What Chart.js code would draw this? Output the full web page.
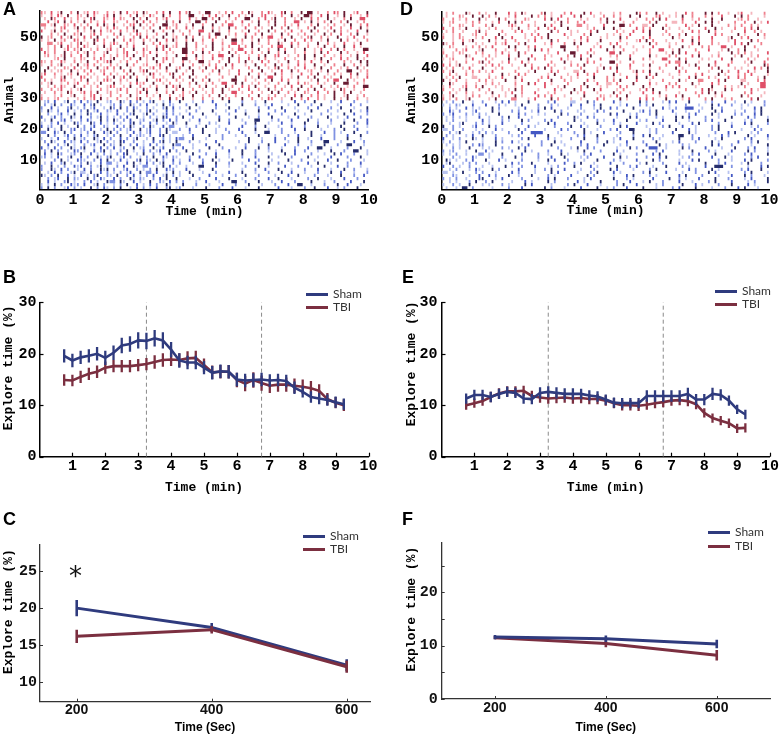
<!DOCTYPE html>
<html><head><meta charset="utf-8">
<script src="https://cdn.jsdelivr.net/npm/chart.js@4.4.1/dist/chart.umd.min.js"></script>
<style>
html,body{margin:0;padding:0;background:#fff;}
#fig{position:relative;width:780px;height:735px;overflow:hidden;background:#fff;}
canvas{position:absolute;}
.lbl{position:absolute;font:bold 18px "Liberation Sans",Arial,sans-serif;line-height:18px;color:#000;}
.leg{position:absolute;font:12px Lato,"Liberation Sans",sans-serif;color:#333;line-height:12px;}
.legline{position:absolute;height:3px;width:22px;}
.star{position:absolute;font:26px "DejaVu Sans",sans-serif;line-height:26px;color:#111;}
</style></head><body><div id="fig">
<canvas id="cA" width="380" height="225" style="left:0;top:0"></canvas>
<canvas id="cD" width="390" height="225" style="left:390px;top:0"></canvas>
<canvas id="cB" width="380" height="238" style="left:0;top:262px"></canvas>
<canvas id="cE" width="390" height="238" style="left:390px;top:262px"></canvas>
<canvas id="cC" width="380" height="235" style="left:0;top:500px"></canvas>
<canvas id="cF" width="390" height="235" style="left:390px;top:500px"></canvas>
<div class="lbl" style="left:3px;top:0px">A</div>
<div class="lbl" style="left:400px;top:0px">D</div>
<div class="lbl" style="left:3px;top:268px">B</div>
<div class="lbl" style="left:402px;top:268px">E</div>
<div class="lbl" style="left:3px;top:510px">C</div>
<div class="lbl" style="left:402px;top:510px">F</div>
<div class="star" style="left:69px;top:563px">*</div>
<div id="legends"></div>
</div>
<script>
// ---------------- DATA ----------------
const seriesNames = ['Sham', 'TBI'];
const timeMin = [0.75,1.00,1.25,1.50,1.75,2.00,2.25,2.50,2.75,3.00,3.25,3.50,3.75,4.00,4.25,4.50,4.75,5.00,5.25,5.50,5.75,6.00,6.25,6.50,6.75,7.00,7.25,7.50,7.75,8.00,8.25,8.50,8.75,9.00,9.25];
const dashTimes = [3.25, 6.75];

const shamB    = [19.6,18.7,19.3,19.6,20.0,19.2,20.2,21.6,21.9,22.6,22.5,23.0,22.6,20.8,18.7,18.3,18.3,17.3,16.3,16.6,16.5,15.0,14.8,14.9,15.0,14.8,14.9,14.7,13.4,12.6,11.6,11.3,11.0,10.6,10.2];
const shamBErr = [1.3,1.3,1.3,1.3,1.3,1.4,1.4,1.5,1.5,1.6,1.6,1.6,1.6,1.5,1.4,1.3,1.3,1.3,1.3,1.3,1.3,1.3,1.3,1.3,1.3,1.2,1.2,1.2,1.2,1.1,1.1,1.1,1.1,1.1,1.1];
const tbiB     = [14.9,14.8,15.5,16.1,16.5,17.3,17.6,17.6,17.6,17.8,18.0,18.4,18.8,18.9,18.8,19.1,19.2,17.8,16.4,16.5,16.5,14.9,14.2,14.9,14.3,13.8,14.0,14.0,13.8,13.6,13.3,12.8,11.2,10.5,10.0];
const tbiBErr  = [1.1,1.1,1.2,1.2,1.2,1.2,1.2,1.2,1.2,1.2,1.2,1.3,1.3,1.3,1.3,1.4,1.4,1.3,1.3,1.3,1.3,1.4,1.5,1.5,1.5,1.4,1.4,1.4,1.4,1.4,1.4,1.3,1.2,1.1,1.1];

const shamE    = [11.3,12.0,12.0,11.6,12.2,12.6,12.4,11.3,11.2,12.4,12.6,12.4,12.2,12.2,12.2,11.9,11.7,11.1,10.5,10.4,10.4,10.4,11.8,11.8,11.8,11.8,11.8,12.2,11.1,11.1,12.2,12.0,10.9,9.2,8.2];
const shamEErr = [1.0,1.0,1.0,1.0,1.0,1.0,1.0,1.0,1.0,1.1,1.1,1.1,1.1,1.1,1.0,1.0,1.0,1.0,1.0,1.0,1.0,1.0,1.1,1.1,1.1,1.1,1.1,1.2,1.1,1.1,1.2,1.1,1.0,0.9,0.9];
const tbiE     = [10.0,10.4,10.8,11.6,12.3,12.7,12.7,12.8,11.8,11.5,11.3,11.4,11.5,11.3,11.4,11.2,11.2,10.9,10.4,10.0,10.0,9.9,10.1,10.4,10.6,10.9,11.0,10.8,10.2,8.5,7.5,7.0,6.5,5.5,5.6];
const tbiEErr  = [0.9,0.9,0.9,1.0,1.0,1.0,1.0,1.0,1.0,1.0,1.0,1.0,1.0,1.0,1.0,1.0,1.0,1.0,1.0,1.0,1.0,1.0,1.0,1.0,1.0,1.0,1.0,1.0,1.0,0.9,0.9,0.9,0.9,0.9,0.9];

const timeSec  = [200, 400, 600];
const shamC    = [20.0, 17.4, 12.3];
const shamCErr = [1.1, 0.6, 0.8];
const tbiC     = [16.2, 17.1, 12.1];
const tbiCErr  = [0.9, 0.5, 0.8];
const shamF    = [11.6, 11.3, 10.3];
const shamFErr = [0.4, 0.6, 0.8];
const tbiF     = [11.5, 10.4, 8.2];
const tbiFErr  = [0.3, 0.7, 1.0];

const xTicksRaster = [0,1,2,3,4,5,6,7,8,9,10];
const xTicksMin    = [1,2,3,4,5,6,7,8,9,10];
const yTicksAnimal = [10,20,30,40,50];
const yTicksExplore= [0,10,20,30];
const yTicksC      = [10,15,20,25];
const yTicksF      = [0,5,10,15,20,25];
const yLabelsF     = ['0','','10','','20',''];
const xTicksSec    = [200,400,600];

// raster: one string per animal, bins of 0.1 min (first 100 used); '.' none, 1..4 = shade (light..dark)
const rasterA_TBI = [ // animals 58 .. 30
"21.3.14..2 .4.12.31.. 2.1.4.3.12 .41..2.3.4 ..3.24..1. 44..1.2.3. .2.41..2.3 1..34.2..4 .44.1..2.3 2.4..13..4",
"1..2.31.4..2 1.4.2..13. 4.1..2.4.1 .31..4.2.. 2..44..1.3 .3.1.4..2. 1.4..23..1 .2..4.1.44 2..3.4..1. 4.2..1.33.",
".1.42..3.1. 2.1.34..21 .3.21..4.2 .4..2.13.. .2..3.1.44 .2.4..1.2. .44..2.3.1 4..2..1.4. .3.2..4.1. .2.4..33..",
"..3.13.4.2.1. 4.2.1.3..2 1..2.14.3. 2.1..4.2.4 ..1.44.2.. 4..2.1..3. .1.4..2.4. .2..33.1.4 .1.2.4..2. 4..1.2..4.",
"22.14..21.3 .1.2..3.41 .4..1.23.4 .1.2..44.1 2..1.4..2. .4..2.33.. 1.2..4..1. 4..2.1.3.. .2.4..1.2. .1.4..2.33",
".1..1.23..14. 2.4..1.2.3 1..2.4..1. 2..4.31.2. .3.1..4..2 .1..4.2..3 ..2.1..4.. 2.4..1..2. 4..1.3..2. .3..4.1.2.",
"3..14.2.1. .2.1.14.3. 12..3.1.24 ..1.4..2.. 4.1..2..33 ..4.1..2.. .1.4..2..4 .2..1.3..2 ..4.2..1.4 .2.1..3..4",
"...2.1.4..21 4..13.2... 2.4..1.32. 1..2..4.1. .2.1..4..2 .44..1.2.. 3..2.4..1. .4.2..1.2. .1..4.2..3 ..2.4..1..",
"4.12..3.14.1 .3.2.4..1. .2.1..2.4. 3.1..4..12 ..4.2..1.3 .2..4..1.. 4.2..1.33. .2..4..1.2 4..2.1..4. .1.3..2.4.",
"1.1.4.12..3 2.1..43.2. .4..2.31.. 2.1.4..3.4 1..2.4..2. .3..1..44. 2..1.4..2. .1.4..2..3 .2..1.4... 4.2..1..2.",
"..22.13..1.24 .1.4..2.13 1..2.1..4. .2.3.1..2. .4..2.1..4 ..2..33.1. .4.1..2..4 1..3.2..1. .4..2.1..3 ..1.4..2.4",
"..1.2.4.31. 2.31..1.4. 2..4.1.3.. .1..2.34.1 2..4..2..1 .4..1.2..3 .2.4..1..2 .33..4.1.. 2..1.4..2. .4..3.1..2",
"3.1.2..13.21 4..1.2..13 .1.2..4..3 1..4.3.2.. .44..1.2.. 4..2..1.33 ..1.4..2.. 4.2..1..4. .1.3..2.4. 2..1..44..",
".31.2..4.1 .2.14.2..1 4..1.23..1 .2.3.1..2. 1..44.2..4 .2..1..4.2 ..3.2..1.4 ..2.4..1.. 2..1.4.3.. .4.2..1.3.",
".12.1.14.2.. 3.4.1..2.1 .2.13.4..2 1..4..1..4 ..2..4.1.. 2.33..4.1. .1..2.4..2 3..1..2.4. .4..2..1.2 ..1.4..33.",
"....12.4..1.2 1..2.31.14 ..1.2..4.1 .4..23.1.. 44..2.1..3 ..1.4..2.. 3..4.2..1. .2..1..4.. 1.4..2..3. 2..4.1..2.",
"21.2..31..2 .1.4..2.13 4..1.2..2. .1..4.2..1 ..2.1..44. 1..2..4..2 .4.1..3.2. .1..4..2.1 .3..2.4... .2.1..4.44",
"1..2.14..1.4 .13.2.1..2 .1..4.2..1 2..13..4.. .4..2..1.2 .2..4.3... 1..4..2..4 .2.1..3.2. .4..1..2.. 4..2.1.4..",
"..4.1..21.3. 1.2..4.13. 2.4..1..2. .13.2.4..1 2..4..1.4. .3.1..2... .2..4..1.2 4..2.1..3. .1.4..2..1 .2..4.1..4",
".4.1.12..4.1 .2.3..12.. 1..2.4..13 4..1..2..4 ..1.4..2.. 2.4..1..3. ..2..4..1. .3..4.2..1 2..1.4..2. .44..1.2..",
"13..2.1.12 .4..2.1..3 .2.1..2.4. .1.43.1..2 4..2..4... .1..2..1.. 3..4..2.1. .4.2..1..3 ..2.4..1.2 .1..3.4..2",
"3...1.24.1..3 2.1.1..2.4 .13.4.2..1 .2..1..4.2 ..4.1..2.. ..2...4..1 .1.4..33.. 2..1.4..2. 4..2.1..4. .2.1..3..4",
".2.1..32..1 .2.4..1.23 1..2.1..4. .4..23.1.. 2.1..4..2. 4..1...44. .2..1..2.4 ..3.2..1.. .1.4..2.33 ..4.1..2..",
"1.14..1.2.1 3..2.1.4.. .4.1..2.31 2..4..1.2. .1..2.4..1 .2..33..4. 4..1.2..1. .2..4..3.2 1..2.1..4. .44..2.1..",
"..1.2.31..4. .2.1.2..13 2..1.4..2. .1.2..4.31 4..1..2.4. .1..4.2..3 .2.4..1..2 ..1.3..4.. 2..4..1.2. .1.2..44.3",
"2..2.13..1.1 4..1..2.1. .13.2..1.4 2..4..1..2 .4..2..1.. 2..4.1..2. .3..2..4.1 .2..1.4..2 .4..2..1.4 2..1..2.44",
".1..2.1.42. .13.2.4..1 2.1..2..13 .4..1..2.4 ..2.1.4..1 .2..4..33. 1..2..1..4 .4..2.1..2 1..3..2.4. .2.4..1..2",
"1...1.2..14.. 1.23.1..2. .2..4.1..2 .1.4..2..1 2..4..1.2. .4.1..2... 2..4..1.2. .1..3.4..2 .2.1..4..1 4..1.2..3.",
"2.1.12..1. .1.2.13.4. 1..2..1..2 4..1..2..4 .2.4..1..2 ..1..4.2.. .4..2..1.3 2..1..4..2 .3..2.1..4 .1.4..2..1"
];
const rasterA_Sham = [ // animals 29 .. 1
".12.3..14.2 .3.21.4..1 2..41.3.2. 1.24..1.3. .4...1..2. .3....4... 2...1..4.. ..1...3..2 ..4....1.. 3...2...1.",
".2.14.2..3 1..3.24.1. .12.3..41. 2.3..1.4.2 1...2..4.. ...3..1... .4...2..1. 3....1..4. ..2..4.... 1...3..2..",
"2..3.1..24.1. 2.13..1.42 .4.2.31..2 .1..24.3.1 ..4..1.... 2...4..1.. ...2..3... 4...1...2. .3...2..4. ..1...4...",
"1.41.2..3.1 .2.4.13..2 1.3..2.4.1 .24.1..3.2 ...1..2... .4...1..3. .1...4.... 2..3...1.. .4....2..1 ...4..1.3.",
"..2..13.1.4. 1.42..3.1. .3.1.24..1 4.2..13.2. 1..3...4.. .1...2.... 4...1..3.. .2...4..1. ...2..1... 4..3...2..",
"3..13.2..41. 3..2.14.2. 1.2.3..4.1 .2.1.43..2 .4..2...1. ..3....4.. .1..2...4. ...1..3... 2....4..1. .3...2...4",
".1.4..23.1. .2.31..4.2 .41.2.3..1 2..14.2.3. 2...1..3.. ...4..2... 1...44...1 .2...3.... 4..1...2.. .1..4...3.",
"1..2.3.1..42 1..42.3.1. 2.1..34.2. .3.2..1.41 ..4...1..2 .1...3.... 2..4...1.. .3..1...4. ..2...1... 4...2..3..",
"3.12..4.1. .4.2.13..2 1..3.2.41. .2.41..3.2 2...1..2.. 4...1..... .3...2..4. ..1...3... 2...4..1.. .4...2...1",
"..4.1.4..23.1 2.3..1.4.2 .2.13..4.1 3..2.41..2 ..3...4... 1..2...3.. ..4...1... 2...3..4.. ..1...2..4 ...3...1..",
"22..31.4.2. .1.2.4..31 4.2..1.3.2 .13..2.4.1 1...2...4. ..1...2... 3...1..44. ..2...1... .4...3..2. 1...4...2.",
"..4.2..13.2 .3.1.24..1 .2.4..3.12 1.2..34.1. ..1..3.... 4...2...1. .2...4.... 1...2..3.. .4..1...2. ..3...4..1",
"1..1.3..2.4.1 2..41.3.2. .3.2.14..1 .4..2.1.32 2..4...1.. ..2....... 4...1...3. .2...4..1. ..3...2... 4...1..2..",
".2.41..3.2 1.3.2..14. 2.1.43..2. .1..3.24.1 .4...2..1. ...3...... 1..4...2.. .3...1..4. ..2...44.. .1...3..2.",
"..3..2.14.1. .2.13..4.2 1.4..2.3.1 .3.2.1..42 2...1...3. ..4....... 2...1..4.. ..3...2... 1...4...2. .44...1..3",
"3.1.3.2..41 .24..1.3.2 .3.12..4.1 2..4.13..2 ..3..1.... 4...2...1. .3...4..2. ..1...2... 3..44..1.. ..2...4..1",
".2.4.2..1.32. 1..3.24.1. .2.4.1..3. 2.13..4.2. .4...2.... 1...3...4. ..2...1... 4...3..2.. .1...4...2 ..44..1..3",
".3.1.42..1 2.4..3.1.2 .1.2.34..1 .4..2.1.3. ..1...4... 2..3...1.. .4...2.... 1...4..3.. ..2...1..4 .3...2...1",
"12.1.3..14. .3.2..41.2 4..13.2..1 .2.4..31.2 1...2..3.. ..4...1... 2...3...4. .1...2.... 4..1...3.. ..2...4..2",
"....2.4.1..32 1..2.3.4.1 .3.1..24.2 1.4.2..3.1 ..3...2..4 .1...4.... 3..2...1.. ..4...2... 1...3..4.. .2...1...4",
".1.3..24.1. .2.41..3.2 2.1..3.4.1 .3.2.14..2 .2...1..3. ..4...2... 1...3...4. .2...1.... 3..4...1.. ..2...3..1",
"2..4.1.2..31 3..2.14.1. .2.3..41.2 2..1.4.3.1 ..1...44.. .3...1.... 2...4..1.. ..3...2... 1...4...3. .2...1..4.",
"2..41.3.2. .1.3.2..41 4.2..13..2 .1.2.4..31 2...3...1. ..4....... .1...2..3. ..4...1... 2...3...1. ..4..2...1",
"..1.3.2..14.1 1.4..3.2.1 .2.13..4.2 2.3..1.4.1 ..4...1... 2...3...4. ..1...2... 4..3...1.. .2...4..3. ..1...2..4",
"41.2.4..3.1 .3.1.24..2 1.4..2.3.1 .2.3..14.2 .1...4.... 3...1...2. .4...2.... 1...3..4.. ..2...1... 4...2..3..",
"..2.13..4.2 1..4.2.31. .3.2..41.2 1..2.3.4.. 4...1..2.. ..3...4... 1...2...3. .4...1.... 2..4...1.. .3...2...4",
"..3.1..24.1. .2.3.1..42 2.41..3.1. .4..21.3.2 .2...1..3. ..1...44.. 2...4...1. .3...2.... 4...1..2.. ..3...4..1",
"1.1.4.2..31 2.3..14.2. .1.2.4..3. 1.3.2..41. ..4...2... 1...3...2. ..4...1... 2...3..44. .1...2...4 ..3...1..2",
"2.4.2..13.2. 1..4.2.31. 2.4..1.3.2 .1.3..24.1 2...1...4. ..2...3... 1...4..... 3...1...2. .4...3..1. 2...4...1"
];
const rasterD_TBI = [ // animals 58 .. 30
".1.2...41.. 2.1..4...3 .2.41....2 4.1...2.3. ..4.3..1.. .1.2....42 .2..4.1... 1..3.2...4 .4.2..1..1 3..1...2.3",
".1...21..4 ..4.2.1... 1.3....4.2 .2.1..3... 3.4...1..2 ..2.1..4.. 4....23..1 .1.4..2... 2.1..3...4 .4.2....1.",
"2..2.1.2...4. 1...4.2..1 ..21....3. 4.3..2...1 .1...2.4.. .3....1..2 .2.4.3.... 3..1.2...4 ..4....12. 2..1...33.",
"1.12...1.2. 2...1.3..4 .4.2...1.. ...1.4.2.. 2.3....1.4 .4..1..2.. ..2.4....1 1.2...3..4 .4.1....2. .2..4.1.3.",
"..1..21..2.. .2.4....13 1...2.1..4 .3..4....2 2.1....3.. ..44.2...1 1.4...2... ..3.1.4... 4....2.1.2 ..2.1...4.",
"3..2.1.4...1 ..1.2....1 .4..1..3.. 2.3...4... ..1.2..4.. 4.1....3.2 .2...4.1.. 1..2....3. .4.1...2.. 2.3.4....1",
".1.2..1...2 4.1....2.. .2.3...1.. ..4.2...1. 1...3.4... ..2.1..3.. 3.4....2.. ..1..3.2.. 4.2....1.. .3..2.1...",
"1..1.2...12. .2...4.1.. ...1.2.3.. 4....3.1.. .2.4....1. 1.2..3.... .4...1.2.. 2.4...1... .3.2....4. 1...4.2...",
"2..1.21... 1.2...3.4. .3...1..2. 2.4.....1. ..3.2...1. 1...4.2... .2.3...... 4.1...2.3. ..3....14. .2.3....1.",
"...1..2.14.. ..4.1..2.. 2...1.3... .4.2....1. 1.3...4... ..2....13. 4.2...1... .3..4.2... 2....1.3.. ..4.2....1",
"41.2..4...1 .1...2.13. ..2.4..... 1.3...2..4 .4....1... 2.3..1.... ..4.2...1. 1....3.4.. .2.1....3. 3.4...2...",
"..21...1.2. 2.1.3....4 .4...2.3.. ..1..44... 2....1.3.. .4.2...1.. 1..3....2. ..4.1...2. 2...33.1.. .4..2.....",
"1...2.13.. .14...2..1 ..2...1.4. 3.2....4.. .1...3.... 4.1..2...1 ...2..33.. 1.4....2.. .3...1.4.. 2.4...1...",
"2..1.21...2. 2...1.3.1. .4.2...... 1..3...44. ..2.1....3 3.4...1... .2....1.4. 4.3...2... ..1...4.2. 2.1....3..",
".2.1...41.. .1.2.1...3 ..4...3... 2.1....2.4 .3..4..... 1.2...3... ..4.1...2. 2....3.4.. .1.2....1. 4..1.2....",
"1.12...1.3. ..2.1....4 .1...4.2.. 2....3.1.. .4.2...3.. ..1...4... 2.1...33.. .4.2....1. 1...3..4.. ..2.1...2.",
"..1.1..2...2 4.2...1.3. ..3.1..... .2...4.1.. ..3.2....4 4.1...2... ..1....3.2 2.4...1... .3....2... 1.4...3...",
"3.2.14...1. ..1.3.2... 1...4.2... .3.1....2. 2.4....1.. ..2...3... 1.4....2.. .3..1.4... 4.2...3... ..1....42.",
".1.2..1.3.. .4...1.2.. ..1...3.2. 4.2...1... .2....1.4. 3.4...2... ..1..2.... 4.1....3.. .2.4....1. 1...3.2.4.",
"2.14...1.2. 2.1.3..... .2...1.4.. ..3.2....1 1.4...2... ..3....14. 2.4...1... .3.2...... 1...4.2..3 ..3.1...4.",
"..2.1..2.1.. ..1...4.1. .3.2...... 1.4...1..3 ..2.3..... 4.1....2.. .3.4...1.. 1....2.3.. ..4.1...2. 2.3....1..",
".1.2.4...1 1...2.1.3. ..4.1..... 2.3...2..1 .1....4... 2.1...3..4 ..4.2..... 1....3.4.. .2.1...3.. 3.2...1.4.",
"4.1.2..1...2 .2.1...4.. 1.3....2.. .4...2.1.. ..3.1...2. 2.4....3.. .1...2.... 4.1...22.. ..3.4....1 1...2.3...",
"..41...2..1 ..1.2.1... .2...4.3.. 3.1....2.. ..4...3..1 1.2....4.. ..3.1...2. 2....4.1.. .3.2...... 4.1...33..",
"1.2...13.. 2.4...1.1. ..1.2..... .3...1.4.. ..2.4...1. 1...3.2... .4.1....3. 2.3....1.. ..4...2.1. 1.2....33.",
"2..1.1.4...2 ..2...1.1. 4.2....1.. ..3.1...4. 2...4.3... .1.2....1. 3.4...1... ..2....3.4 1...4.2... ..3.1....4",
"..2.1..2.1.. .1.4...1.3 ..2...3... 1.2....4.1 .3...1.... 4.2..1...3 ..3.4..... 1....2.3.4 .4.1...... 2.3...1..2",
"1.14...1.2. 2...1.2.1. .4.1....3. 2.3...1... ..4....21. 1.3..4.... .2...1.2.. 3.4....2.. ..1.3..... 4.2...1..3",
"2.1.2..14... ..1.4....2 2...1.3... .4.2...1.. 1....3.2.. ..4.1...3. 3.2...4... .1.3....2. 4...1.2... ..3.4...1."
];
const rasterD_Sham = [ // animals 29 .. 1
".1.2..4..1 ..2...1.3. 3.1...4... ..2.3....1 1...4.2... ..3.1..... 4.2....1.3 .3...4.... 1.2...3..1 ..4.1...2.",
"1.1.21...3.. .3...2.1.. 1.4....2.. .2.1...3.. 3...2.4... ..1.3...2. 2.4....1.. ..2...1... 4.3...2..1 .1....2...",
"..2.1..3.1. 1...4.2... ..1.3...2. 4.3....1.. .2...1.4.. 3.2....4.. ..1...3.1. 2..333..1. .4..2..... 1...3.4...",
"..31.2...13.. ..4.1...2. 2...1.3... .4.2....1. 1...3.2... ..4....13. 2.4....3.. .1...2.... 4.3...1..2 ..2.4...1.",
"2.13...2.1. 2.1...4... ..3.2...1. 1....4.2.. .2...1.... 4.3...1.2. ..2.4..... 1...2.3... .4.1....2. 2...3.4...",
".1.2.1.1...3. .1...2.4.. 3...1..... ..2....41. .3.2...... 1...4.3... ..2.1...4. 4.3....2.. .1...4.... 3.2...1...",
".1.2...1.. ..3.1...2. 1...4.2... .2.3...... 4.1....2.1 ..3...4... 1.2....3.. .4...1.... 2.3...4... ..1.2....4",
"..1..14...2. 2.1...3... ..2....1.. 4.3...2... .1...4.... 2.1....3.. ..4.2..... 1...3.4... ..2...1... 3.4....2..",
"4..2.1...13. ..4.2..... 1...3.1... ..2....4.. 3.1...2... ..4.3..... 1....2.4.. .3...1.... 2.4...3... ..1.2....4",
"11.2..2...1 .1...3.1.. ..4.2..... 1....3.2.. ..4...1... 2.3...44.. ..1.2..... 4...3.1... .2.4...... 1...3.2...",
"..2.14...1.2. 2.1....2.. .3..3333.. ..1....2.. 4.1...3... .2...4.... 1.2....3.. ..4.1..... 2...3.4... .1.2......",
".2.1...1.3. .4...2.... 1.2....3.. .4...1.... 2.3...4... ..1....2.. 3.4...1... .44..2.... 1...3.2... ..4.1...3.",
"3..1.2...41. 1...3.1... ..2.4..... 3.1....2.. .4...2.... 1.3...4... ..2.1..... 4...2.3... .1.4...... 2.3....1..",
"1.2..1.4.. ..1...4.2. .3.1...... 2...4.1... ..3....2.. 4.1...3... .2...4.... 1.3....2.. ..4.1..... 3...2.4...",
".1.1.1...2.3 2...4..... ..1.3...2. .4...1.... 2.3....4.. ..1.2..... 3...4.1... .2.1...... 4.3...2... ..1....42.",
"...2.1..4...1 .1...2.1.. 4.3....... ..2...1.4. .3.2...... 1...4.2... 333..1.... 4.2....3.. ..1...4... 2.3...1...",
"2.12...1..4 ..3.1..... 2...4.1... .2...3.... 1.4....2.. ..3.1..... 4...2.3... .1...4.... 2.1....3.. ..4.2...1.",
"1.1.2..1...2 2.1...4... ..3....2.. 1...4.1... .2.3...... 4.1....2.. ..3.4..... 1...2.3... .4...1.... 2.3....4..",
"...2.1...31. ..1...2... 4.1....2.. .3...4.... 1.2....3.. ..4.1..... 2...3.4... .1.2...... 3...4.1... ..2.3....1",
".41.1..2.3.. .4...3.1.. ..2....1.. 4.3...2... .1...4.... 2.1....3.. ..4.2..... 1...3.4... ..2...1... 3.4....2..",
".14...1.2. 2...1..... .3.2...4.. ..1....3.. 2.4...1... .3...2.... 1.4....2.. ..3.1..... 4...2.3... .1.4...2..",
"3..2.1..2...1 ..1...4.1. .2...3.... 1.2....4.. ..3.1..... 4...2.3... .1...4.... 2.1....3.. 444..2.... 1...3.4...",
"..1.2...1.3 1...4.2... ..3....1.. 2.4...3... .1...2.... 4.3....1.. ..2.4..... 1...3.2... .4.1...... 2.3...4...",
"11.1..4...2 .2...1.... 3.2....1.. ..4.3..... 1...2.4... .3.1...... 2.4....3.. ..1...2... 4.3...1... .2.4....1.",
"...21...1..3 ..3.2...4. .1...4.... 2.1....3.. ..4.2..... 1...3.4... .2.1...... 3.4....2.. ..1...3... 4.2...1...",
"2.1.2..1...3 4...1.3... ..2....1.. 3.4...2... .1.3...... 4...2.1... ..3....4.. 2.1...3... .4...2.... 1.3....4..",
"..1.1...2.4 ..2.4..... 1...3.1... .4.2...... 3.1....4.. ..2...3... 1.4...2... .3...1.... 2.4....3.. ..1.2...4.",
"1..2.1..4...1 .1...2.1.. ..4.3..... 1....2.4.. .3...1.... 2.4...3... ..1.2..... 4...3.1... .2...4.... 3.1....2..",
".1..1.44.2 .....1.... 2...3..... .4.2...1.. ..3....4.. 1.2...3... .4...1.... 2.3....4.. ..1...2... 3.4...1..."
];

// ---------------- STYLE ----------------
const SHAM = '#2f3b7e', TBI = '#7b2f40';
const redShades  = {1:'#f4b6bd', 2:'#ee808d', 3:'#df5068', 4:'#681b32'};
const blueShades = {1:'#b8c3f0', 2:'#8092e2', 3:'#4458c3', 4:'#262d6c'};
const MONO = 'Liberation Mono, Courier New, monospace';
const SANS = 'Liberation Sans, Arial, sans-serif';
const BIN = 0.1;

const inwardTicks = {
  id: 'inwardTicks',
  afterDraw(chart, args, opts) {
    if (!opts || !opts.len) return;
    const {ctx, chartArea} = chart;
    ctx.save(); ctx.strokeStyle = opts.color || '#000'; ctx.lineWidth = opts.width || 1;
    ['x','y'].forEach(id => {
      const s = chart.scales[id];
      s.ticks.forEach(t => {
        const p = Math.round(s.getPixelForValue(t.value)) + 0.5;
        ctx.beginPath();
        if (id === 'x') { ctx.moveTo(p, chartArea.bottom); ctx.lineTo(p, chartArea.bottom - opts.len); }
        else { ctx.moveTo(chartArea.left, p); ctx.lineTo(chartArea.left + opts.len, p); }
        ctx.stroke();
      });
    });
    ctx.restore();
  }
};
Chart.register(inwardTicks);

function parseRaster(rows, topRow) {
  const out = {1:[],2:[],3:[],4:[]};
  rows.forEach((str, r) => {
    const s = str.replace(/ /g, '').slice(0, 100);
    const y = topRow - r;
    let i = 0;
    while (i < s.length) {
      const c = s[i];
      if (!out[c]) { i++; continue; }
      let j = i; while (j < s.length && s[j] === c) j++;
      out[c].push({x: (i + j) / 2 * BIN, y: y, n: j - i});
      i = j;
    }
  });
  return out;
}

function fixedTicks(arr) { return s => { s.ticks = arr.map(v => ({value: v})); }; }

function xAxis(o) {
  return {
    type: 'linear', min: o.min, max: o.max,
    afterBuildTicks: fixedTicks(o.ticks),
    afterFit: s => { s.height = o.h; },
    grid: {display: false, drawTicks: false},
    border: {display: true, color: o.axisColor || '#000', width: o.bw || 1.5},
    ticks: {autoSkip: false, maxRotation: 0, padding: o.tp, color: o.tc || '#000',
            font: o.font, callback: o.cb || (v => v)},
    title: {display: true, text: o.title, color: '#000', font: o.tfont, padding: {top: 0, bottom: o.tpb}}
  };
}
function yAxis(o) {
  return {
    type: 'linear', min: o.min, max: o.max,
    afterBuildTicks: fixedTicks(o.ticks),
    afterFit: s => { s.width = o.w; },
    grid: {display: false, drawTicks: false},
    border: {display: true, color: o.axisColor || '#000', width: o.bw || 1.5},
    ticks: {autoSkip: false, padding: o.tp, color: o.tc || '#000',
            font: o.font, callback: o.cb || (v => v)},
    title: {display: true, text: o.title, color: '#000', font: o.tfont, padding: {top: o.tpt, bottom: 0}}
  };
}
const tickMono = {family: MONO, weight: 'bold', size: 15};
const titleMono = {family: MONO, weight: 'bold', size: 13};

function baseOpts(pad, scales, ticksOpt) {
  return {
    responsive: false, animation: false, devicePixelRatio: 1, events: [],
    layout: {padding: pad},
    plugins: {legend: {display: false}, tooltip: {enabled: false}, inwardTicks: ticksOpt},
    scales: scales
  };
}

function rasterChart(id, tbiRows, shamRows, L) {
  const tbi = parseRaster(tbiRows, 58), sham = parseRaster(shamRows, 29);
  const datasets = [];
  [4,3,2,1].forEach(k => {
    [[tbi, redShades], [sham, blueShades]].forEach(([set, pal]) => {
      datasets.push({
        data: set[k], showLine: false,
        pointStyle: 'line', pointRotation: 90, pointRadius: 1.6, pointHoverRadius: 1.6,
        pointBorderColor: pal[k], pointBackgroundColor: pal[k],
        pointBorderWidth: ctx => {
          const r = ctx.raw; if (!r) return 1.8;
          const sc = ctx.chart.scales.x;
          const px = sc.getPixelForValue(BIN) - sc.getPixelForValue(0);
          return r.n === 1 ? 1.8 : r.n * px - 1;
        }
      });
    });
  });
  new Chart(document.getElementById(id), {
    type: 'scatter',
    data: {datasets},
    options: baseOpts(L.pad, {
      x: xAxis({min: 0, max: 10, ticks: xTicksRaster, h: L.xh, tp: L.xtp, font: tickMono,
                title: 'Time (min)', tfont: titleMono, tpb: L.xtpb}),
      y: yAxis({min: 0.5, max: 58.5, ticks: yTicksAnimal, w: L.yw, tp: L.ytp, font: tickMono,
                title: 'Animal', tfont: titleMono, tpt: L.ytpt})
    }, {len: 0})
  });
}

function pts(xs, ys) { return xs.map((x, i) => ({x: x, y: ys[i]})); }
function errPts(xs, ys, es) {
  const d = [];
  xs.forEach((x, i) => { d.push({x: x, y: ys[i] - es[i]}, {x: x, y: ys[i] + es[i]}, {x: x, y: null}); });
  return d;
}
function lineDS(data, color, w, extra) {
  return Object.assign({type: 'line', data: data, borderColor: color, borderWidth: w,
    pointRadius: 0, pointHoverRadius: 0, tension: 0, fill: false, spanGaps: false}, extra || {});
}

function timeChart(id, sham, shamErr, tbi, tbiErr, L) {
  const datasets = [
    lineDS(errPts(timeMin, sham, shamErr), SHAM, 2.3),
    lineDS(pts(timeMin, sham), SHAM, 2.6),
    lineDS(errPts(timeMin, tbi, tbiErr), TBI, 2.3),
    lineDS(pts(timeMin, tbi), TBI, 2.6)
  ];
  dashTimes.forEach(t => datasets.push(lineDS([{x: t, y: yTicksExplore[0]}, {x: t, y: yTicksExplore[yTicksExplore.length - 1]}],
      '#8a8a8a', 1, {borderDash: [4, 3]})));
  new Chart(document.getElementById(id), {
    type: 'line',
    data: {datasets},
    options: baseOpts(L.pad, {
      x: xAxis({min: 0, max: 10, ticks: xTicksMin, h: L.xh, tp: L.xtp, font: tickMono,
                title: 'Time (min)', tfont: titleMono, tpb: L.xtpb}),
      y: yAxis({min: 0, max: 30, ticks: yTicksExplore, w: L.yw, tp: L.ytp, font: tickMono,
                title: L.ytitle, tfont: titleMono, tpt: L.ytpt})
    }, {len: 4, color: '#000', width: 1.2})
  });
}

function secChart(id, sham, shamErr, tbi, tbiErr, L) {
  const sets = {
    sham: [lineDS(errPts(timeSec, sham, shamErr), SHAM, 2.6), lineDS(pts(timeSec, sham), SHAM, 3)],
    tbi:  [lineDS(errPts(timeSec, tbi, tbiErr), TBI, 2.6), lineDS(pts(timeSec, tbi), TBI, 3)]
  };
  const datasets = L.tbiTop ? sets.tbi.concat(sets.sham) : sets.sham.concat(sets.tbi);
  new Chart(document.getElementById(id), {
    type: 'line',
    data: {datasets},
    options: baseOpts(L.pad, {
      x: xAxis({min: L.xmin, max: L.xmax, ticks: xTicksSec, h: L.xh, tp: L.xtp,
                font: {family: SANS, weight: 'bold', size: 14}, tc: '#111', axisColor: '#333', bw: 1.3,
                title: 'Time (Sec)', tfont: {family: SANS, weight: 'bold', size: 12}, tpb: L.xtpb}),
      y: yAxis({min: L.ymin, max: L.ymax, ticks: L.yticks, w: L.yw, tp: L.ytp, font: tickMono, tc: '#111',
                axisColor: '#333', bw: 1.3, cb: L.ycb,
                title: L.ytitle, tfont: titleMono, tpt: L.ytpt})
    }, {len: 3, color: '#333', width: 1})
  });
}

// ---------------- CHARTS ----------------
rasterChart('cA', rasterA_TBI, rasterA_Sham,
  {pad: {left: 0, right: 10.7, top: 6.7, bottom: 0}, xh: 35.7, xtp: 2, xtpb: 5.5, yw: 40, ytp: 2, ytpt: 2.2});
rasterChart('cD', rasterD_TBI, rasterD_Sham,
  {pad: {left: 0, right: 10, top: 5.5, bottom: 0}, xh: 35.7, xtp: 1.5, xtpb: 6.5, yw: 51.7, ytp: 2.5, ytpt: 13.9});

timeChart('cB', shamB, shamBErr, tbiB, tbiBErr,
  {pad: {left: 0, right: 11.5, top: 40.3, bottom: 0}, xh: 43.3, xtp: 1, xtpb: 4.2, yw: 39.5, ytp: 3, ytpt: 0.5,
   ytitle: '   Explore time (%)'});
timeChart('cE', shamE, shamEErr, tbiE, tbiEErr,
  {pad: {left: 0, right: 10, top: 40.3, bottom: 0}, xh: 43.3, xtp: 1, xtpb: 4.2, yw: 51.5, ytp: 4, ytpt: 13.9,
   ytitle: '    Explore time (%)'});

secChart('cC', shamC, shamCErr, tbiC, tbiCErr,
  {pad: {left: 0, right: 10, top: 45, bottom: 0}, xmin: 145.6, xmax: 634.5, xh: 33.3, xtp: 0, xtpb: 0,
   ymin: 7.4, ymax: 28.5, yticks: yTicksC, yw: 40, ytp: 3, ytpt: 0.5, tbiTop: true,
   ytitle: '   Explore time (%)'});
secChart('cF', shamF, shamFErr, tbiF, tbiFErr,
  {pad: {left: 0, right: 10, top: 42.7, bottom: 0}, xmin: 104, xmax: 696, xh: 36, xtp: 1, xtpb: 0,
   ymin: 0, ymax: 29.3, yticks: yTicksF, yw: 51.7, ytp: 4, ytpt: 13.9, tbiTop: false,
   ycb: (v, i) => yLabelsF[i], ytitle: '   Explore time (%)'});

// ---------------- LEGENDS ----------------
const legendSpots = [ {x: 306, y: 294, dy: 13}, {x: 715, y: 291, dy: 13}, {x: 303, y: 536, dy: 13.3}, {x: 708, y: 532, dy: 14} ];
const legendColors = [SHAM, TBI];
const legHost = document.getElementById('legends');
legendSpots.forEach(p => {
  seriesNames.forEach((name, i) => {
    const yy = p.y + i * p.dy;
    const ln = document.createElement('div');
    ln.className = 'legline';
    ln.style.left = p.x + 'px'; ln.style.top = (yy - 1.5) + 'px'; ln.style.background = legendColors[i];
    legHost.appendChild(ln);
    const tx = document.createElement('div');
    tx.className = 'leg';
    tx.style.left = (p.x + 27) + 'px'; tx.style.top = (yy - 6.5) + 'px';
    tx.textContent = name;
    legHost.appendChild(tx);
  });
});
</script>
</body></html>
